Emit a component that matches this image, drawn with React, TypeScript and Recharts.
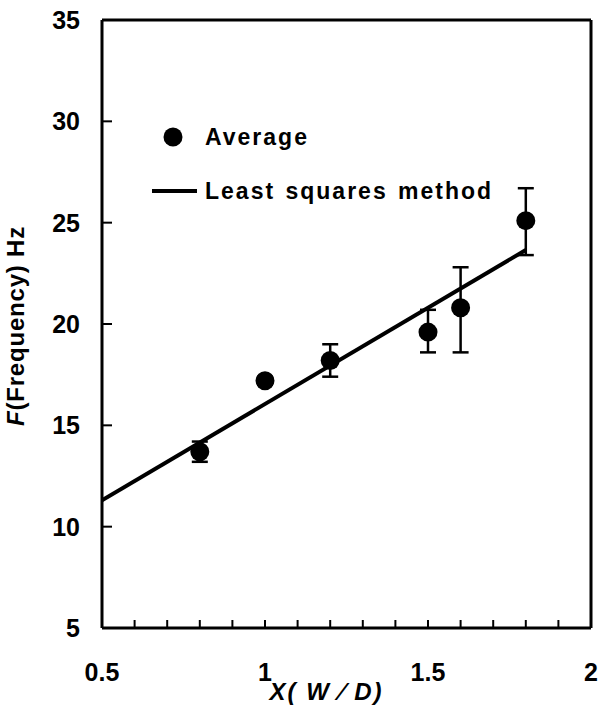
import { ComposedChart, Scatter, XAxis, YAxis, ErrorBar, ReferenceLine } from 'recharts';

// Measured points (mean of each group) and their error bars [below, above]
const xValues = [0.8, 1.0, 1.2, 1.5, 1.6, 1.8];
const averages = [13.7, 17.2, 18.2, 19.6, 20.8, 25.1];
const errors: [number, number][] = [[0.5, 0.5], [0.2, 0.2], [0.8, 0.8], [1.0, 1.1], [2.2, 2.0], [1.7, 1.6]];

// Least squares fit endpoints
const fitX = [0.5, 1.8];
const fitY = [11.3, 23.65];

const xTicks = [0.5, 0.6, 0.7, 0.8, 0.9, 1.0, 1.1, 1.2, 1.3, 1.4, 1.5, 1.6, 1.7, 1.8, 1.9, 2.0];
const xLabels = [0.5, 1, 1.5, 2];
const yTicks = [5, 10, 15, 20, 25, 30, 35];

const FONT = '"Liberation Sans", Arial, sans-serif';

const avgData = xValues.map((x, i) => ({ x, y: averages[i], err: errors[i] }));
const fitData = fitX.map((x, i) => ({ x, y: fitY[i] }));

const Dot = (props: any) => <circle cx={props.cx} cy={props.cy} r={9.5} fill="#000" />;

// legend drawn as an overlay so it doesn't eat chart space
const LegendBox = () => (
    <div style={{ position: 'absolute', left: 150, top: 122, fontFamily: FONT, fontSize: 23, fontWeight: 'bold', letterSpacing: 2, wordSpacing: 2, color: '#000' }}>
        <div style={{ display: 'flex', alignItems: 'center', height: 30 }}>
            <svg width={55} height={30}>
                <circle cx={23} cy={15} r={9.5} fill="#000" />
            </svg>
            <span>Average</span>
        </div>
        <div style={{ display: 'flex', alignItems: 'center', height: 30, marginTop: 24 }}>
            <svg width={55} height={30}>
                <line x1={2} y1={15} x2={47} y2={15} stroke="#000" strokeWidth={4} />
            </svg>
            <span>Least squares method</span>
        </div>
    </div>
);

const YTitle = (props: any) => {
    const cy = props.viewBox.y + props.viewBox.height / 2 + 2;
    return (
        <text x={18} y={cy} transform={`rotate(-90, 18, ${cy})`} textAnchor="middle"
            fontFamily={FONT} fontSize={24} fontWeight="bold" fill="#000" dominantBaseline="middle" letterSpacing={0.8}>
            <tspan fontStyle="italic">F</tspan>
            <tspan>(Frequency) Hz</tspan>
        </text>
    );
};

const XTitle = (props: any) => {
    const cx = props.viewBox.x + props.viewBox.width / 2;
    return (
        <text x={cx - 20} y={700} textAnchor="middle" fontFamily={FONT} fontSize={24}
            fontWeight="bold" fontStyle="italic" fill="#000" letterSpacing={2}>
            X( W ⁄ D)
        </text>
    );
};

const tickStyle = { fill: '#000', fontSize: 25, fontWeight: 'bold', fontFamily: FONT };

const App = () => {
    return (
        <div style={{ position: 'absolute', left: 0, top: 0, width: 599, height: 712, background: '#fff' }}>
            <ComposedChart width={599} height={712} margin={{ top: 20, right: 8, left: 0, bottom: 0 }}>
                <XAxis type="number" dataKey="x" domain={[0.5, 2]} ticks={xTicks} interval={0}
                    tickFormatter={(v) => (xLabels.some((l) => Math.abs(l - v) < 1e-6) ? String(v) : '')}
                    height={84} tickSize={-8} tickMargin={43}
                    axisLine={{ stroke: '#000', strokeWidth: 3 }} tickLine={{ stroke: '#000', strokeWidth: 2 }}
                    tick={tickStyle} label={{ content: XTitle }} allowDataOverflow />
                <YAxis type="number" dataKey="y" domain={[5, 35]} ticks={yTicks} interval={0}
                    width={102} tickSize={-10} tickMargin={32}
                    axisLine={{ stroke: '#000', strokeWidth: 3 }} tickLine={{ stroke: '#000', strokeWidth: 2 }}
                    tick={tickStyle} label={{ content: YTitle }} allowDataOverflow />
                <ReferenceLine y={35} stroke="#000" strokeWidth={3} />
                <ReferenceLine x={2} stroke="#000" strokeWidth={3} />
                <Scatter data={fitData} dataKey="y" line={{ stroke: '#000', strokeWidth: 4 }}
                    shape={() => null} isAnimationActive={false} />
                <Scatter data={avgData} dataKey="y" shape={Dot} isAnimationActive={false}>
                    <ErrorBar dataKey="err" direction="y" width={8} stroke="#000" strokeWidth={2.5} />
                </Scatter>
            </ComposedChart>
            <LegendBox />
        </div>
    );
};

export default App;
